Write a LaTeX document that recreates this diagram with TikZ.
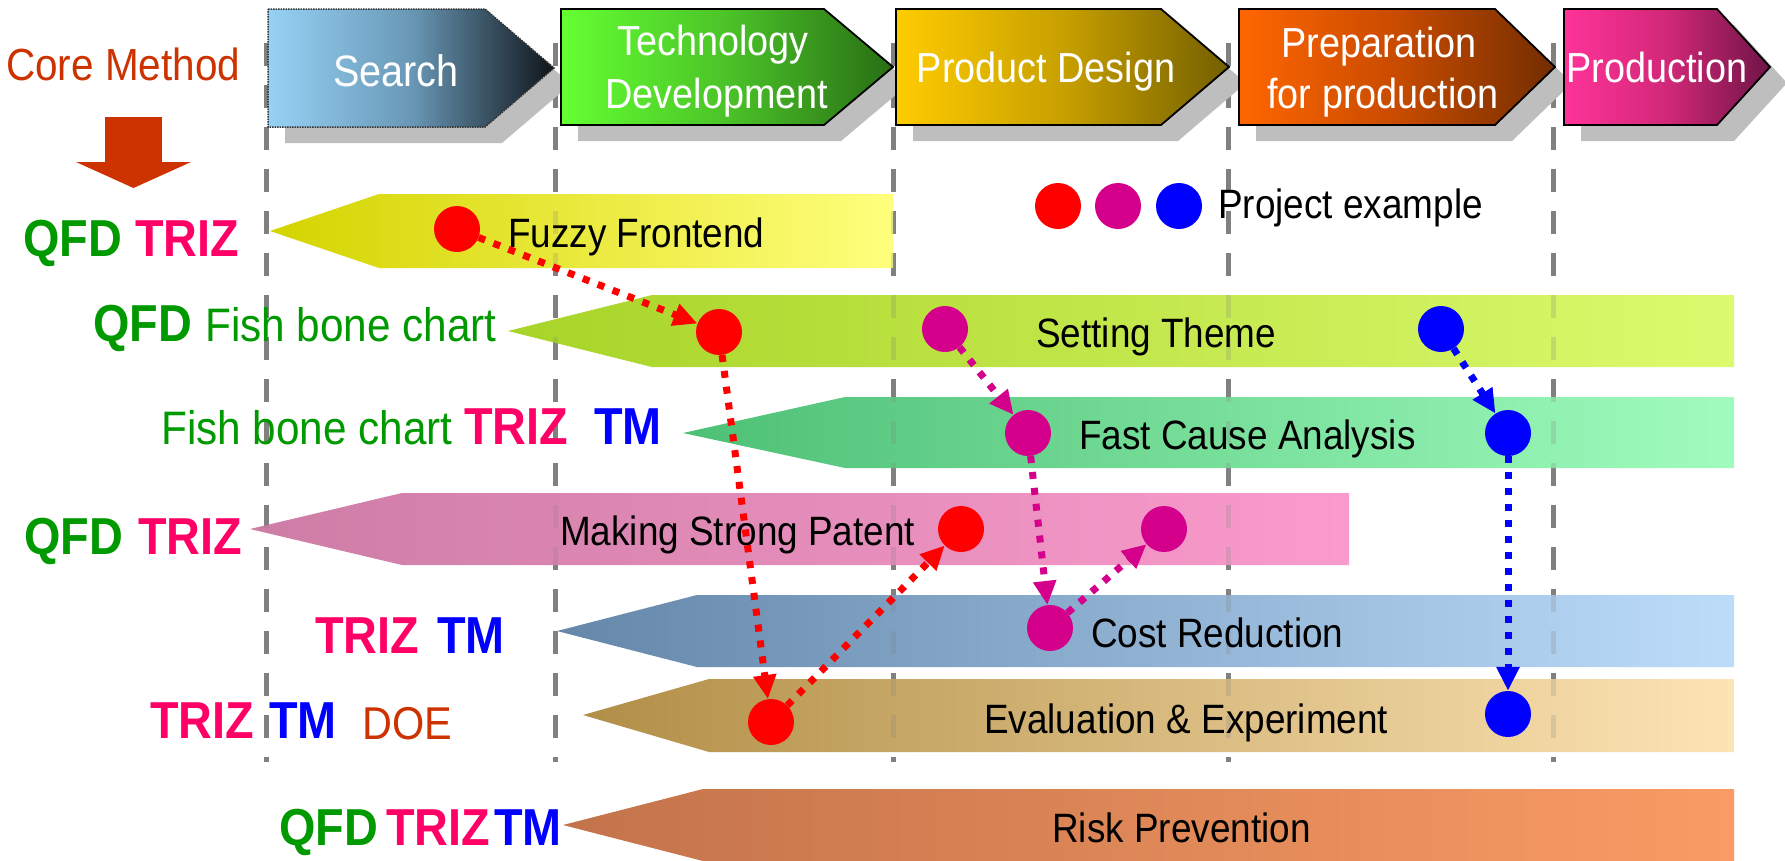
\documentclass[tikz,border=0pt]{standalone}
\usepackage{fontspec}
\setmainfont{Liberation Sans}[FakeStretch=0.9]
\usetikzlibrary{arrows.meta}
\definecolor{qfd}{RGB}{0,153,0}
\definecolor{triz}{RGB}{255,0,102}
\definecolor{tmc}{RGB}{0,0,255}
\definecolor{core}{RGB}{204,51,0}
\definecolor{mag}{RGB}{212,0,140}
\definecolor{gridgray}{RGB}{128,128,128}
\definecolor{shadowgray}{RGB}{190,190,190}
\definecolor{fzA}{RGB}{212,212,0}\definecolor{fzB}{RGB}{255,255,125}
\definecolor{stA}{RGB}{168,212,40}\definecolor{stB}{RGB}{220,250,110}
\definecolor{fcA}{RGB}{78,192,118}\definecolor{fcB}{RGB}{160,252,190}
\definecolor{ptA}{RGB}{205,125,165}\definecolor{ptB}{RGB}{250,155,205}
\definecolor{crA}{RGB}{100,135,170}\definecolor{crB}{RGB}{188,220,250}
\definecolor{evA}{RGB}{178,143,72}\definecolor{evB}{RGB}{253,228,180}
\definecolor{rkA}{RGB}{195,115,75}\definecolor{rkB}{RGB}{250,155,100}
\definecolor{sA}{RGB}{150,210,245}\definecolor{sB}{RGB}{105,152,182}\definecolor{sC}{RGB}{15,20,25}
\definecolor{tA}{RGB}{100,255,50}\definecolor{tB}{RGB}{75,195,40}\definecolor{tC}{RGB}{40,110,20}
\definecolor{pA}{RGB}{255,204,0}\definecolor{pB}{RGB}{200,160,0}\definecolor{pC}{RGB}{115,95,0}
\definecolor{rA}{RGB}{255,102,0}\definecolor{rB}{RGB}{200,75,0}\definecolor{rC}{RGB}{115,45,0}
\definecolor{dA}{RGB}{255,51,153}\definecolor{dB}{RGB}{210,40,120}\definecolor{dC}{RGB}{110,20,70}
\begin{document}
\begin{tikzpicture}[x=1pt,y=-1pt,
  wtxt/.style={text=white, inner sep=0pt, anchor=base, font=\fontsize{42}{42}\selectfont},
  btxt/.style={inner sep=0pt, anchor=base west, font=\fontsize{41}{41}\selectfont},
  lab/.style={inner sep=0pt, anchor=base west, font=\fontsize{52}{52}\selectfont\bfseries},
  labr/.style={inner sep=0pt, anchor=base west, font=\fontsize{47}{47}\selectfont},
  gline/.style={draw=gridgray, line width=5pt, dash pattern=on 23pt off 19pt},
  chev/.style={draw=black, line width=1.8pt},
  dot/.style={circle, minimum size=46pt, inner sep=0pt},
  conn/.style={line width=7pt, dash pattern=on 7pt off 9pt, -{Triangle[length=24pt,width=22pt]}}
]
\fill[white] (0,0) rectangle (1785,860);
\useasboundingbox (0,0) rectangle (1785,860);

% grid lines
\foreach \x in {266,555,893,1228,1553} \draw[gline] (\x,43) -- (\x,762);

% bands
\shade[left color=fzA, right color=fzB] (270,231) -- (379,194) -- (893,194) -- (893,268) -- (379,268) -- cycle;
\shade[left color=stA, right color=stB] (508,331) -- (652,295) -- (1734,295) -- (1734,367) -- (652,367) -- cycle;
\shade[left color=fcA, right color=fcB] (683,433) -- (845,397) -- (1734,397) -- (1734,468) -- (845,468) -- cycle;
\shade[left color=ptA, right color=ptB] (250,529) -- (402,493) -- (1349,493) -- (1349,565) -- (402,565) -- cycle;
\shade[left color=crA, right color=crB] (557,631) -- (697,595) -- (1734,595) -- (1734,667) -- (697,667) -- cycle;
\shade[left color=evA, right color=evB] (583,715) -- (709,679) -- (1734,679) -- (1734,752) -- (709,752) -- cycle;
\shade[left color=rkA, right color=rkB] (563,825) -- (703,789) -- (1734,789) -- (1734,861) -- (703,861) -- cycle;

% faint grid lines through bands
\foreach \x in {266,555,893,1228,1553} \draw[gline, opacity=0.22] (\x,43) -- (\x,762);

% band texts
\node[btxt] (fuzzy) at (508,247) {Fuzzy Frontend};
\node[btxt] (theme) at (1036,347) {Setting Theme};
\node[btxt] (fast) at (1079,449) {Fast Cause Analysis};
\node[btxt] (patent) at (560,545) {Making Strong Patent};
\node[btxt] (cost) at (1091,647) {Cost Reduction};
\node[btxt] (eval) at (984,733) {Evaluation \& Experiment};
\node[btxt] (risk) at (1052,842) {Risk Prevention};
\node[btxt] (proj) at (1218,218) {Project example};

% header shadows
\fill[shadowgray] (285,25) -- (502,25) -- (571,84) -- (502,143) -- (285,143) -- cycle;
\fill[shadowgray] (578,25) -- (841,25) -- (910,83) -- (841,141) -- (578,141) -- cycle;
\fill[shadowgray] (913,25) -- (1178,25) -- (1246,83) -- (1178,141) -- (913,141) -- cycle;
\fill[shadowgray] (1256,25) -- (1512,25) -- (1572,83) -- (1512,141) -- (1256,141) -- cycle;
\fill[shadowgray] (1581,25) -- (1734,25) -- (1787,83) -- (1734,141) -- (1581,141) -- cycle;

% header chevrons
\shadedraw[left color=sA, right color=sC, middle color=sB, draw=black!80, line width=1.5pt, densely dotted]
  (268,9) -- (485,9) -- (554,68) -- (485,127) -- (268,127) -- cycle;
\shadedraw[left color=tA, right color=tC, middle color=tB, chev]
  (561,9) -- (824,9) -- (893,67) -- (824,125) -- (561,125) -- cycle;
\shadedraw[left color=pA, right color=pC, middle color=pB, chev]
  (896,9) -- (1161,9) -- (1229,67) -- (1161,125) -- (896,125) -- cycle;
\shadedraw[left color=rA, right color=rC, middle color=rB, chev]
  (1239,9) -- (1495,9) -- (1555,67) -- (1495,125) -- (1239,125) -- cycle;
\shadedraw[left color=dA, right color=dC, middle color=dB, chev]
  (1564,9) -- (1717,9) -- (1770,67) -- (1717,125) -- (1564,125) -- cycle;

\node[wtxt, font=\fontsize{44}{44}\selectfont] (search) at (396,86) {Search};
\node[wtxt] (tech1) at (713,55) {Technology};
\node[wtxt] (tech2) at (717,108) {Development};
\node[wtxt] (prod) at (1046,82) {Product Design};
\node[wtxt] (prep1) at (1379,57) {Preparation};
\node[wtxt] (prep2) at (1383,108) {for production};
\node[wtxt] (production) at (1657,82) {Production};

% core method and arrow
\node[inner sep=0pt, anchor=base west, text=core, font=\fontsize{45}{45}\selectfont] (coremethod) at (6,80) {Core Method};
\fill[core] (105,117) rectangle (162,162);
\fill[core] (76,162) -- (191,162) -- (133.5,188) -- cycle;

% row labels
\node[lab, text=qfd] (l1a) at (23,256) {QFD};
\node[lab, text=triz] (l1b) at (135,256) {TRIZ};
\node[lab, text=qfd] (l2a) at (93,341) {QFD};
\node[labr, text=qfd] (l2b) at (205,341) {Fish bone chart};
\node[labr, text=qfd] (l3a) at (161,444) {Fish bone chart};
\node[lab, text=triz] (l3b) at (464,444) {TRIZ};
\node[lab, text=tmc] (l3c) at (594,444) {TM};
\node[lab, text=qfd] (l4a) at (24,554) {QFD};
\node[lab, text=triz] (l4b) at (138,554) {TRIZ};
\node[lab, text=triz] (l5a) at (315,653) {TRIZ};
\node[lab, text=tmc] (l5b) at (437,653) {TM};
\node[lab, text=triz] (l6a) at (150,738) {TRIZ};
\node[lab, text=tmc] (l6b) at (269,738) {TM};
\node[labr, text=core, font=\fontsize{46}{46}\selectfont] (l6c) at (362,739) {DOE};
\node[lab, text=qfd] (l7a) at (279,845) {QFD};
\node[lab, text=triz] (l7b) at (386,845) {TRIZ};
\node[lab, text=tmc] (l7c) at (494,845) {TM};

% legend dots
\node[dot, fill=red] (legr) at (1058,206) {};
\node[dot, fill=mag] (legm) at (1118,206) {};
\node[dot, fill=tmc] (legb) at (1179,206) {};

% project dots
\node[dot, fill=red] (r1) at (457,229) {};
\node[dot, fill=red] (r2) at (719,332) {};
\node[dot, fill=red] (r3) at (961,529) {};
\node[dot, fill=red] (r4) at (771,722) {};
\node[dot, fill=mag] (m1) at (945,329) {};
\node[dot, fill=mag] (m2) at (1028,433) {};
\node[dot, fill=mag] (m3) at (1164,529) {};
\node[dot, fill=mag] (m4) at (1050,628) {};
\node[dot, fill=tmc] (b1) at (1441,329) {};
\node[dot, fill=tmc] (b2) at (1508,433) {};
\node[dot, fill=tmc] (b3) at (1508,714) {};

% connectors
\draw[conn, red] (r1) -- (r2);
\draw[conn, red] (r2) -- (r4);
\draw[conn, red] (r4) -- (r3);
\draw[conn, mag] (m1) -- (m2);
\draw[conn, mag] (m2) -- (m4);
\draw[conn, mag] (m4) -- (m3);
\draw[conn, tmc] (b1) -- (b2);
\draw[conn, tmc] (b2) -- (b3);
\end{tikzpicture}
\end{document}
